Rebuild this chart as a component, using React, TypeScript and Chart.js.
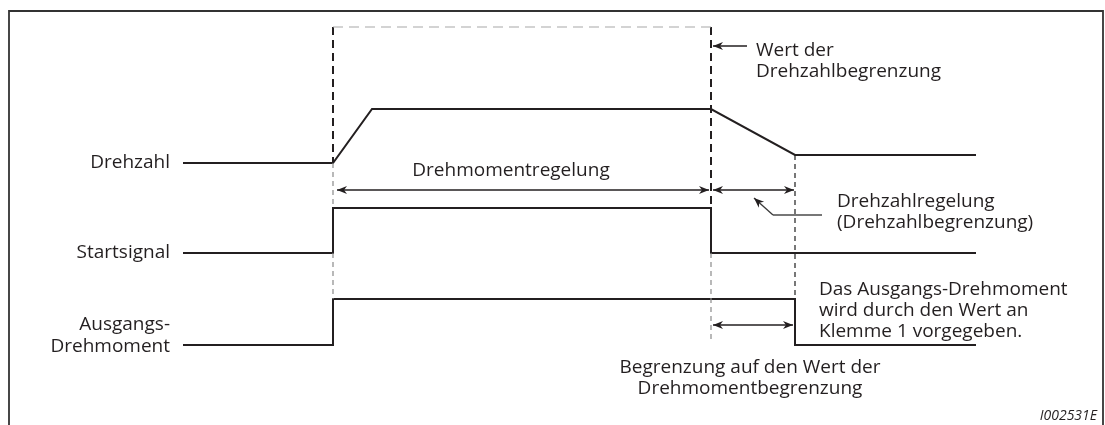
import React, { useEffect, useRef } from "react";
import { Chart, registerables } from "chart.js";

Chart.register(...registerables);

// ---- time events (x units) ----
const tBegin = 183;
const tOn = 333;
const tRampEnd = 372;
const tOff = 711;
const tLimitEnd = 795;
const tEnd = 976;

// ---- signal levels (y units, downward) ----
const drehzahlTimes = [tBegin, tOn, tRampEnd, tOff, tLimitEnd, tEnd];
const drehzahlLevels = [163, 163, 109, 109, 155, 155];
const startTimes = [tBegin, tOn, tOn, tOff, tOff, tEnd];
const startLevels = [253, 253, 208, 208, 253, 253];
const torqueTimes = [tBegin, tOn, tOn, tLimitEnd, tLimitEnd, tEnd];
const torqueLevels = [345, 345, 299, 299, 345, 345];

// ---- frame ----
const frameX = [9, 9, 1103, 1103];
const frameY = [425, 11, 11, 425];

// ---- marker lines: [x1, y1, x2, y2] ----
const darkMarkers = [
  [tOn, 27, tOn, 163],
  [tOff, 27, tOff, 208],
];
const lightMarkers = [
  [tOn, 163, tOn, 208],
  [tOn, 253, tOn, 299],
  [tOff, 253, tOff, 340],
];
const topMarker = [[tOn, 27, tOff, 27]];
const limitMarker = [[tLimitEnd, 155, tLimitEnd, 299]];

// ---- row labels ----
const rowLabels = [["Drehzahl"], ["Startsignal"], ["Ausgangs-", "Drehmoment"]];
const rowLabelBaselines = [168, 258, 330];

// ---- annotation texts ----
const noteTorqueCtrl = ["Drehmomentregelung"];
const noteSpeedLimit = ["Wert der", "Drehzahlbegrenzung"];
const noteSpeedCtrl = ["Drehzahlregelung", "(Drehzahlbegrenzung)"];
const noteTorqueRef = ["Das Ausgangs-Drehmoment", "wird durch den Wert an", "Klemme 1 vorgegeben."];
const noteTorqueLimit = ["Begrenzung auf den Wert der", "Drehmomentbegrenzung"];
const figureId = "I002531E";

// ---- arrows: [x1, y1, x2, y2, heads(1 = end only, 2 = both)] ----
const arrowLines = [
  [337, 190, 709, 190, 2],
  [713, 190, 794, 190, 2],
  [713, 325, 793, 325, 2],
  [747, 46, 713, 46, 1],
  [773, 215, 754, 198, 1],
];
const leaderLine = [[773, 215, 822, 215]];

const INK = "#231f20";
const FONT = '"Open Sans", "Noto Sans", sans-serif';

function pts(xs: number[], ys: number[]) {
  return xs.map((x, i) => ({ x, y: ys[i] }));
}
function segs(list: number[][]) {
  const out: any[] = [];
  list.forEach((s, i) => {
    if (i > 0) out.push({ x: s[0], y: null });
    out.push({ x: s[0], y: s[1] });
    out.push({ x: s[2], y: s[3] });
  });
  return out;
}

function lineDs(data: any[], color: string, width: number, dash: number[] = []) {
  return {
    type: "line" as const,
    data,
    borderColor: color,
    borderWidth: width,
    borderDash: dash,
    pointRadius: 0,
    fill: false,
    tension: 0,
    spanGaps: false,
    borderCapStyle: "butt" as const,
    borderJoinStyle: "miter" as const,
  };
}

function drawHead(ctx: CanvasRenderingContext2D, x: number, y: number, ang: number) {
  const L = 10, W = 4, N = 7;
  ctx.save();
  ctx.translate(x, y);
  ctx.rotate(ang);
  ctx.beginPath();
  ctx.moveTo(0, 0);
  ctx.lineTo(-L, -W);
  ctx.lineTo(-N, 0);
  ctx.lineTo(-L, W);
  ctx.closePath();
  ctx.fill();
  ctx.restore();
}

const notesPlugin = {
  id: "notes",
  afterDatasetsDraw(chart: any) {
    const { ctx, scales } = chart;
    const sx = (v: number) => scales.x.getPixelForValue(v);
    const sy = (v: number) => scales.y.getPixelForValue(v);
    ctx.save();
    ctx.fillStyle = INK;
    ctx.strokeStyle = INK;

    // arrows
    arrowLines.forEach(([x1, y1, x2, y2, heads], i) => {
      const px1 = sx(x1), py1 = sy(y1), px2 = sx(x2), py2 = sy(y2);
      const ang = Math.atan2(py2 - py1, px2 - px1);
      ctx.lineWidth = i === 4 ? 1.3 : 1.4;
      ctx.strokeStyle = i === 4 ? "#3a3a3a" : INK;
      ctx.fillStyle = INK;
      ctx.beginPath();
      ctx.moveTo(px1, py1);
      ctx.lineTo(px2, py2);
      ctx.stroke();
      drawHead(ctx, px2, py2, ang);
      if (heads === 2) drawHead(ctx, px1, py1, ang + Math.PI);
    });
    leaderLine.forEach(([x1, y1, x2, y2]) => {
      ctx.strokeStyle = "#4a4a4a";
      ctx.lineWidth = 1.3;
      ctx.beginPath();
      ctx.moveTo(sx(x1), sy(y1));
      ctx.lineTo(sx(x2), sy(y2));
      ctx.stroke();
    });

    // texts
    ctx.fillStyle = INK;
    ctx.font = `19px ${FONT}`;
    ctx.textBaseline = "alphabetic";
    const block = (lines: string[], x: number, y: number, align: CanvasTextAlign, lh = 21) => {
      ctx.textAlign = align;
      lines.forEach((t, i) => ctx.fillText(t, sx(x), sy(y + i * lh)));
    };
    rowLabels.forEach((lines, i) => block(lines, 170, rowLabelBaselines[i], "right", 22));
    block(noteTorqueCtrl, 511, 176, "center");
    block(noteSpeedLimit, 756, 56, "left");
    block(noteSpeedCtrl, 837, 207, "left");
    block(noteTorqueRef, 819, 295, "left");
    block(noteTorqueLimit, 750, 373, "center");

    ctx.font = `italic 14px ${FONT}`;
    ctx.textAlign = "right";
    ctx.fillText(figureId, sx(1097), sy(420));
    ctx.restore();
  },
};

export default function App() {
  const ref = useRef<HTMLCanvasElement | null>(null);
  useEffect(() => {
    if (!ref.current) return;
    const chart = new Chart(ref.current, {
      type: "line",
      data: {
        datasets: [
          lineDs(pts(frameX, frameY), "#333333", 1.8),
          lineDs(segs(topMarker), "#a8a8a8", 1.2, [10, 6]),
          lineDs(segs(lightMarkers), "#8a8a8a", 1.2, [5, 4]),
          lineDs(segs(darkMarkers), INK, 2, [8, 5]),
          lineDs(segs(limitMarker), "#1e1e1e", 1.2, [5, 4]),
          lineDs(pts(drehzahlTimes, drehzahlLevels), INK, 2),
          lineDs(pts(startTimes, startLevels), INK, 2),
          lineDs(pts(torqueTimes, torqueLevels), INK, 2),
        ],
      },
      options: {
        animation: false,
        responsive: false,
        events: [],
        layout: { padding: 0 },
        plugins: { legend: { display: false }, tooltip: { enabled: false } },
        scales: {
          x: { type: "linear", min: 0, max: 1105, display: false },
          y: { type: "linear", min: 0, max: 425, reverse: true, display: false },
        },
      },
      plugins: [notesPlugin],
    });
    return () => chart.destroy();
  }, []);
  return (
    <div style={{ position: "absolute", left: 0, top: 0, width: 1105, height: 425, background: "#fff" }}>
      <canvas ref={ref} width={1105} height={425} style={{ display: "block" }} />
    </div>
  );
}
